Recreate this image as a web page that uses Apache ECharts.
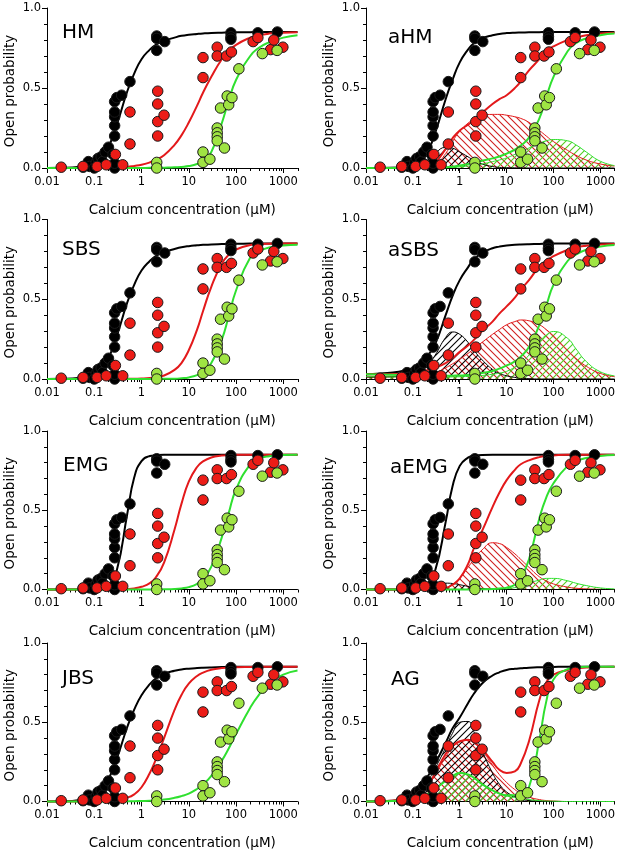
<!DOCTYPE html>
<html><head><meta charset="utf-8">
<script src="https://cdn.jsdelivr.net/npm/echarts@6.0.0/dist/echarts.min.js"></script>
<style>html,body{margin:0;padding:0;background:#fff}#c{width:618px;height:853px}</style>
</head><body><div id="c"></div>
<script>
// ---------- data ----------
const CURVE_X = [0.01, 0.02, 0.05, 0.1, 0.15, 0.2, 0.3, 0.5, 0.7, 1, 1.5, 2, 3, 5, 7, 10, 15, 20, 30, 50, 70, 100, 200, 300, 500, 1000, 2000];

const BLACK_X = [0.058, 0.075, 0.08, 0.1, 0.11, 0.12, 0.14, 0.15, 0.17, 0.2, 0.25, 0.27, 0.27, 0.27, 0.27, 0.27, 0.27, 0.27, 0.3, 0.38, 0.57, 2.1, 2.1, 2.1, 3.1, 78, 78, 78, 290, 750];
const BLACK_Y = [0.005, 0.04, 0.01, 0.0, 0.035, 0.06, 0.07, 0.04, 0.1, 0.13, 0.085, 0.0, 0.03, 0.2, 0.265, 0.32, 0.35, 0.415, 0.44, 0.455, 0.54, 0.825, 0.81, 0.735, 0.79, 0.845, 0.82, 0.805, 0.845, 0.85];
const RED_X = [0.02, 0.058, 0.115, 0.18, 0.28, 0.4, 0.57, 0.57, 2.2, 2.2, 2.2, 2.2, 3.0, 20, 20, 40, 40, 63, 80, 230, 290, 540, 630, 980];
const RED_Y = [0.005, 0.01, 0.01, 0.02, 0.085, 0.02, 0.35, 0.15, 0.48, 0.40, 0.29, 0.20, 0.33, 0.69, 0.565, 0.755, 0.70, 0.70, 0.725, 0.79, 0.815, 0.74, 0.80, 0.755];
const GREEN_X = [2.1, 2.1, 20, 20, 28, 40, 40, 40, 40, 57, 47, 65, 70, 82, 115, 360, 740];
const GREEN_Y = [0.035, 0.0, 0.10, 0.035, 0.055, 0.25, 0.22, 0.195, 0.17, 0.125, 0.375, 0.45, 0.395, 0.44, 0.62, 0.715, 0.735];

const HM_BLACK = [0, 0.001, 0.008, 0.035, 0.075, 0.13, 0.27, 0.48, 0.59, 0.68, 0.74, 0.77, 0.795, 0.815, 0.826, 0.833, 0.838, 0.841, 0.844, 0.846, 0.847, 0.848, 0.849, 0.85, 0.85, 0.85, 0.85];
const HM_RED = [0, 0, 0, 0.001, 0.002, 0.003, 0.005, 0.008, 0.013, 0.02, 0.035, 0.05, 0.08, 0.145, 0.204, 0.284, 0.39, 0.47, 0.57, 0.68, 0.73, 0.77, 0.815, 0.83, 0.84, 0.845, 0.848];
const HM_GREEN = [0, 0, 0, 0, 0, 0, 0, 0, 0, 0, 0.001, 0.001, 0.002, 0.004, 0.007, 0.012, 0.025, 0.045, 0.1, 0.28, 0.42, 0.55, 0.7, 0.75, 0.785, 0.815, 0.83];

const SBS_BLACK = [0, 0.001, 0.008, 0.035, 0.075, 0.13, 0.27, 0.48, 0.59, 0.68, 0.74, 0.77, 0.795, 0.815, 0.826, 0.833, 0.838, 0.841, 0.844, 0.846, 0.847, 0.848, 0.849, 0.85, 0.85, 0.85, 0.85];
const SBS_RED = [0, 0, 0, 0, 0, 0, 0, 0.001, 0.002, 0.003, 0.006, 0.011, 0.022, 0.057, 0.1, 0.18, 0.31, 0.425, 0.578, 0.724, 0.778, 0.812, 0.84, 0.845, 0.848, 0.85, 0.85];
const SBS_GREEN = [0, 0, 0, 0, 0, 0, 0, 0, 0, 0, 0, 0.001, 0.001, 0.002, 0.005, 0.01, 0.024, 0.044, 0.1, 0.247, 0.393, 0.555, 0.762, 0.8, 0.825, 0.837, 0.842];

const EMG_BLACK = [0, 0, 0, 0.002, 0.009, 0.027, 0.121, 0.478, 0.706, 0.81, 0.842, 0.847, 0.85, 0.85, 0.85, 0.85, 0.85, 0.85, 0.85, 0.85, 0.85, 0.85, 0.85, 0.85, 0.85, 0.85, 0.85];
const EMG_RED = [0, 0, 0, 0, 0, 0, 0.001, 0.003, 0.007, 0.017, 0.04, 0.076, 0.17, 0.379, 0.54, 0.68, 0.773, 0.808, 0.833, 0.845, 0.848, 0.85, 0.85, 0.85, 0.85, 0.85, 0.85];
const EMG_GREEN = [0, 0, 0, 0, 0, 0, 0, 0, 0, 0, 0, 0, 0.001, 0.003, 0.007, 0.015, 0.036, 0.065, 0.144, 0.329, 0.482, 0.631, 0.79, 0.824, 0.841, 0.848, 0.85];

const JBS_BLACK = [0, 0.001, 0.01, 0.04, 0.085, 0.14, 0.27, 0.47, 0.58, 0.67, 0.74, 0.775, 0.805, 0.825, 0.833, 0.838, 0.842, 0.844, 0.846, 0.848, 0.849, 0.85, 0.85, 0.85, 0.85, 0.85, 0.85];
const JBS_RED = [0, 0, 0, 0.002, 0.004, 0.0075, 0.015, 0.025, 0.045, 0.09, 0.18, 0.264, 0.4, 0.578, 0.672, 0.743, 0.792, 0.813, 0.831, 0.842, 0.845, 0.847, 0.849, 0.85, 0.85, 0.85, 0.85];
const JBS_GREEN = [0, 0, 0, 0, 0, 0.0003, 0.0005, 0.0015, 0.002, 0.0034, 0.005, 0.0077, 0.012, 0.023, 0.034, 0.05, 0.079, 0.107, 0.162, 0.258, 0.335, 0.425, 0.592, 0.67, 0.743, 0.8, 0.827];

const AHM_BLACK = [0, 0, 0.003, 0.015, 0.045, 0.09, 0.22, 0.43, 0.55, 0.66, 0.74, 0.78, 0.81, 0.83, 0.838, 0.843, 0.846, 0.847, 0.848, 0.849, 0.85, 0.85, 0.85, 0.85, 0.85, 0.85, 0.85];
const AHM_BLACK_BUMP = [0, 0, 0.001, 0.011, 0.03, 0.054, 0.094, 0.129, 0.124, 0.1, 0.07, 0.048, 0.025, 0.009, 0.004, 0.002, 0.001, 0, 0, 0, 0, 0, 0, 0, 0, 0, 0];
const AHM_RED = [0, 0, 0.001, 0.003, 0.006, 0.012, 0.035, 0.12, 0.185, 0.235, 0.27, 0.3, 0.345, 0.4, 0.43, 0.455, 0.5, 0.54, 0.61, 0.68, 0.73, 0.76, 0.8, 0.815, 0.83, 0.84, 0.845];
const AHM_RED_BUMP = [0, 0, 0, 0.001, 0.002, 0.005, 0.02, 0.09, 0.165, 0.23, 0.28, 0.305, 0.325, 0.335, 0.335, 0.33, 0.32, 0.31, 0.285, 0.235, 0.2, 0.165, 0.11, 0.08, 0.05, 0.025, 0.012];
const AHM_GREEN = [0, 0, 0, 0, 0, 0, 0.001, 0.004, 0.008, 0.015, 0.025, 0.033, 0.045, 0.06, 0.072, 0.09, 0.115, 0.14, 0.19, 0.31, 0.44, 0.57, 0.73, 0.78, 0.81, 0.83, 0.84];
const AHM_GREEN_BUMP = [0, 0, 0, 0, 0, 0, 0, 0.002, 0.004, 0.007, 0.012, 0.016, 0.025, 0.04, 0.05, 0.063, 0.085, 0.1, 0.125, 0.155, 0.17, 0.178, 0.17, 0.145, 0.1, 0.042, 0.015];

const ASBS_BLACK = [0.03, 0.035, 0.045, 0.07, 0.1, 0.14, 0.22, 0.4, 0.52, 0.62, 0.7, 0.75, 0.79, 0.82, 0.83, 0.837, 0.841, 0.843, 0.845, 0.847, 0.848, 0.849, 0.85, 0.85, 0.85, 0.85, 0.85];
const ASBS_BLACK_BUMP = [0.012, 0.013, 0.016, 0.03, 0.05, 0.08, 0.15, 0.26, 0.295, 0.28, 0.23, 0.18, 0.12, 0.06, 0.035, 0.02, 0.01, 0.005, 0.002, 0, 0, 0, 0, 0, 0, 0, 0];
const ASBS_RED = [0.03, 0.03, 0.032, 0.038, 0.045, 0.055, 0.07, 0.1, 0.13, 0.17, 0.21, 0.245, 0.3, 0.36, 0.41, 0.455, 0.51, 0.56, 0.62, 0.705, 0.74, 0.77, 0.81, 0.825, 0.835, 0.843, 0.847];
const ASBS_RED_BUMP = [0.012, 0.013, 0.015, 0.02, 0.025, 0.03, 0.04, 0.07, 0.095, 0.125, 0.16, 0.19, 0.23, 0.28, 0.31, 0.34, 0.36, 0.37, 0.365, 0.34, 0.31, 0.27, 0.18, 0.13, 0.08, 0.035, 0.015];
const ASBS_GREEN = [0.03, 0.028, 0.025, 0.022, 0.021, 0.02, 0.02, 0.02, 0.021, 0.022, 0.025, 0.03, 0.037, 0.05, 0.065, 0.085, 0.11, 0.14, 0.2, 0.34, 0.46, 0.59, 0.74, 0.78, 0.81, 0.83, 0.84];
const ASBS_GREEN_BUMP = [0.015, 0.014, 0.013, 0.012, 0.012, 0.012, 0.012, 0.012, 0.013, 0.014, 0.016, 0.018, 0.022, 0.03, 0.037, 0.048, 0.075, 0.1, 0.15, 0.235, 0.275, 0.298, 0.255, 0.19, 0.11, 0.045, 0.02];

const AEMG_BLACK = [0, 0, 0, 0.003, 0.012, 0.033, 0.121, 0.425, 0.65, 0.78, 0.832, 0.843, 0.849, 0.85, 0.85, 0.85, 0.85, 0.85, 0.85, 0.85, 0.85, 0.85, 0.85, 0.85, 0.85, 0.85, 0.85];
const AEMG_BLACK_BUMP = [0, 0, 0, 0.002, 0.006, 0.01, 0.025, 0.04, 0.038, 0.03, 0.02, 0.013, 0.006, 0.002, 0, 0, 0, 0, 0, 0, 0, 0, 0, 0, 0, 0, 0];
const AEMG_RED = [0, 0, 0, 0, 0, 0, 0.002, 0.01, 0.03, 0.07, 0.16, 0.26, 0.37, 0.52, 0.61, 0.69, 0.755, 0.79, 0.815, 0.835, 0.842, 0.846, 0.85, 0.85, 0.85, 0.85, 0.85];
const AEMG_RED_BUMP = [0, 0, 0, 0, 0, 0, 0.002, 0.01, 0.03, 0.07, 0.14, 0.19, 0.25, 0.295, 0.29, 0.265, 0.225, 0.19, 0.14, 0.08, 0.055, 0.035, 0.015, 0.008, 0.004, 0.001, 0];
const AEMG_GREEN = [0, 0, 0, 0, 0, 0, 0, 0, 0, 0, 0, 0, 0.001, 0.003, 0.006, 0.012, 0.03, 0.07, 0.19, 0.45, 0.58, 0.67, 0.78, 0.81, 0.83, 0.843, 0.848];
const AEMG_GREEN_BUMP = [0, 0, 0, 0, 0, 0, 0, 0, 0, 0, 0, 0, 0, 0.001, 0.003, 0.005, 0.012, 0.02, 0.04, 0.06, 0.07, 0.07, 0.055, 0.04, 0.025, 0.01, 0.004];

const AG_BLACK = [0, 0.002, 0.008, 0.04, 0.09, 0.15, 0.24, 0.37, 0.46, 0.53, 0.62, 0.68, 0.745, 0.795, 0.815, 0.83, 0.837, 0.84, 0.844, 0.847, 0.848, 0.849, 0.85, 0.85, 0.85, 0.85, 0.85];
const AG_BLACK_BUMP = [0, 0.001, 0.006, 0.03, 0.07, 0.12, 0.21, 0.34, 0.43, 0.5, 0.505, 0.44, 0.32, 0.18, 0.11, 0.06, 0.03, 0.015, 0.006, 0.002, 0, 0, 0, 0, 0, 0, 0];
const AG_RED = [0, 0.002, 0.01, 0.025, 0.055, 0.09, 0.18, 0.3, 0.35, 0.38, 0.39, 0.375, 0.33, 0.25, 0.2, 0.18, 0.19, 0.24, 0.38, 0.64, 0.75, 0.8, 0.83, 0.84, 0.845, 0.848, 0.85];
const AG_RED_BUMP = [0, 0.002, 0.01, 0.025, 0.055, 0.09, 0.17, 0.28, 0.34, 0.375, 0.385, 0.37, 0.32, 0.23, 0.17, 0.12, 0.075, 0.05, 0.028, 0.012, 0.006, 0.003, 0, 0, 0, 0, 0];
const AG_GREEN = [0, 0.001, 0.005, 0.015, 0.03, 0.045, 0.08, 0.13, 0.16, 0.18, 0.17, 0.15, 0.11, 0.07, 0.05, 0.04, 0.04, 0.05, 0.09, 0.39, 0.63, 0.77, 0.835, 0.845, 0.85, 0.85, 0.85];
const AG_GREEN_BUMP = [0, 0.001, 0.005, 0.015, 0.03, 0.045, 0.08, 0.13, 0.16, 0.18, 0.17, 0.15, 0.11, 0.07, 0.05, 0.035, 0.025, 0.02, 0.012, 0.006, 0.003, 0.002, 0, 0, 0, 0, 0];

const X_TICKS = [0.01, 0.1, 1, 10, 100, 1000];
const X_TICK_LABELS = ['0.01', '0.1', '1', '10', '100', '1000'];
const X_NAME = 'Calcium concentration (\u03bcM)';
const Y_NAME = 'Open probability';

const PANELS = [
  { title: 'HM',   col: 0, row: 0, curves: [HM_BLACK, HM_RED, HM_GREEN], bumps: null },
  { title: 'SBS',  col: 0, row: 1, curves: [SBS_BLACK, SBS_RED, SBS_GREEN], bumps: null },
  { title: 'EMG',  col: 0, row: 2, curves: [EMG_BLACK, EMG_RED, EMG_GREEN], bumps: null },
  { title: 'JBS',  col: 0, row: 3, curves: [JBS_BLACK, JBS_RED, JBS_GREEN], bumps: null },
  { title: 'aHM',  col: 1, row: 0, curves: [AHM_BLACK, AHM_RED, AHM_GREEN], bumps: [AHM_BLACK_BUMP, AHM_RED_BUMP, AHM_GREEN_BUMP] },
  { title: 'aSBS', col: 1, row: 1, curves: [ASBS_BLACK, ASBS_RED, ASBS_GREEN], bumps: [ASBS_BLACK_BUMP, ASBS_RED_BUMP, ASBS_GREEN_BUMP] },
  { title: 'aEMG', col: 1, row: 2, curves: [AEMG_BLACK, AEMG_RED, AEMG_GREEN], bumps: [AEMG_BLACK_BUMP, AEMG_RED_BUMP, AEMG_GREEN_BUMP] },
  { title: 'AG',   col: 1, row: 3, curves: [AG_BLACK, AG_RED, AG_GREEN], bumps: [AG_BLACK_BUMP, AG_RED_BUMP, AG_GREEN_BUMP] }
];

// ---------- layout / style ----------
const FONT = 'DejaVu Sans';
const COLS = [{ left: 47, width: 250.5 }, { left: 366, width: 249.5 }];
const ROWS = [{ top: 8, height: 160 }, { top: 219.5, height: 159.5 }, { top: 431, height: 158.5 }, { top: 643, height: 158.5 }];
const TITLE_POS = { HM: [62, 23], SBS: [62, 240], EMG: [63, 456], JBS: [62, 669], aHM: [388, 28], aSBS: [388, 241], aEMG: [390, 458], AG: [391, 670] };
const LINE_COLORS = ['#000000', '#e3191b', '#2fe02f'];
const FILL_COLORS = ['#000000', '#ec1c17', '#9fe443'];
const HATCH_DIR = [1, -1, 1];

function hatch(color, dir) {
  const s = 7;
  const c = document.createElement('canvas');
  c.width = s; c.height = s;
  const g = c.getContext('2d');
  g.strokeStyle = color; g.lineWidth = 1.1;
  g.beginPath();
  if (dir > 0) {
    g.moveTo(0, s); g.lineTo(s, 0);
    g.moveTo(-1, 1); g.lineTo(1, -1);
    g.moveTo(s - 1, s + 1); g.lineTo(s + 1, s - 1);
  } else {
    g.moveTo(0, 0); g.lineTo(s, s);
    g.moveTo(-1, s - 1); g.lineTo(1, s + 1);
    g.moveTo(s - 1, -1); g.lineTo(s + 1, 1);
  }
  g.stroke();
  return c;
}
const HATCHES = LINE_COLORS.map((c, i) => hatch(i === 1 ? '#cf2020' : (i === 2 ? '#55cc22' : '#000'), HATCH_DIR[i]));

const MINOR_X = [];
for (let e = -2; e <= 3; e++) for (let m = 2; m <= 9; m++) { const v = m * Math.pow(10, e); if (v <= 2000.0001) MINOR_X.push(+v.toPrecision(3)); }

const zip = (xs, ys) => xs.map((x, i) => [x, ys[i]]);

const grids = [], xAxes = [], yAxes = [], titles = [], series = [];
PANELS.forEach((p, i) => {
  const c = COLS[p.col], r = ROWS[p.row];
  grids.push({ left: c.left, width: c.width, top: r.top, height: r.height, containLabel: false });
  xAxes.push({
    type: 'log', logBase: 10, gridIndex: i, min: 0.01, max: 2000,
    name: X_NAME, nameLocation: 'middle', nameGap: 35,
    nameTextStyle: { fontFamily: FONT, fontSize: 13.5, color: '#000', padding: [0, 0, 0, 20] },
    axisLine: { show: true, onZero: false, lineStyle: { color: '#000', width: 1 } },
    axisTick: { show: true, length: 5, customValues: X_TICKS, lineStyle: { color: '#000' } },
    minorTick: { show: false },
    splitLine: { show: false },
    axisLabel: {
      customValues: X_TICKS, margin: 8, fontFamily: FONT, fontSize: 11.5, color: '#000',
      formatter: v => { const k = X_TICKS.findIndex(t => Math.abs(Math.log10(t) - Math.log10(v)) < 1e-6); return k >= 0 ? X_TICK_LABELS[k] : ''; }
    }
  });
  yAxes.push({
    type: 'value', gridIndex: i, min: 0, max: 1, interval: 0.5,
    name: Y_NAME, nameLocation: 'middle', nameGap: 30,
    nameTextStyle: { fontFamily: FONT, fontSize: 13.5, color: '#000', padding: [0, 6, 0, 0] },
    axisLine: { show: true, lineStyle: { color: '#000', width: 1 } },
    axisTick: { show: true, length: 5, lineStyle: { color: '#000' } },
    minorTick: { show: true, splitNumber: 5, length: 3, lineStyle: { color: '#000' } },
    splitLine: { show: false },
    axisLabel: { margin: 6, fontFamily: FONT, fontSize: 11.5, color: '#000', formatter: v => v.toFixed(1) }
  });
  const tp = TITLE_POS[p.title];
  titles.push({ text: p.title, left: tp[0], top: tp[1], padding: 0,
    textStyle: { fontFamily: FONT, fontSize: 20, fontWeight: 'normal', color: '#000' } });

  // hatched component areas
  if (p.bumps) {
    [1, 0, 2].forEach(k => {
      series.push({
        type: 'line', xAxisIndex: i, yAxisIndex: i, data: zip(CURVE_X, p.bumps[k]),
        smooth: 0.5, showSymbol: false, symbol: 'none', silent: true, z: 1,
        lineStyle: { color: LINE_COLORS[k], width: 1 },
        areaStyle: { color: { image: HATCHES[k], repeat: 'repeat' }, opacity: 1 }
      });
    });
  }
  // fitted curves
  [0, 1, 2].forEach(k => {
    series.push({
      type: 'line', xAxisIndex: i, yAxisIndex: i, data: zip(CURVE_X, p.curves[k]),
      smooth: 0.5, showSymbol: false, symbol: 'none', silent: true, clip: false, z: 3,
      lineStyle: { color: LINE_COLORS[k], width: 2 }
    });
  });
  // data points
  [[BLACK_X, BLACK_Y], [RED_X, RED_Y], [GREEN_X, GREEN_Y]].forEach((d, k) => {
    series.push({
      type: 'scatter', xAxisIndex: i, yAxisIndex: i, data: zip(d[0], d[1]),
      symbol: 'circle', symbolSize: 10.5, clip: false, silent: true, z: 4 + k,
      itemStyle: { color: FILL_COLORS[k], borderColor: '#1a1a1a', borderWidth: 1, opacity: 1 }
    });
  });
  // log minor ticks on x axis
  series.push({
    type: 'custom', xAxisIndex: i, yAxisIndex: i, data: MINOR_X.map(v => [v, 0]),
    clip: false, silent: true, z: 2,
    renderItem: (params, api) => {
      const pt = api.coord([api.value(0), 0]);
      const x = Math.round(pt[0]) + 0.5;
      return { type: 'line', shape: { x1: x, y1: pt[1], x2: x, y2: pt[1] + 3 }, style: { stroke: '#000', lineWidth: 1 } };
    }
  });
});

const chart = echarts.init(document.getElementById('c'), null, { renderer: 'canvas' });
chart.setOption({
  animation: false, backgroundColor: '#fff',
  title: titles, grid: grids, xAxis: xAxes, yAxis: yAxes, series: series
});
</script></body></html>
